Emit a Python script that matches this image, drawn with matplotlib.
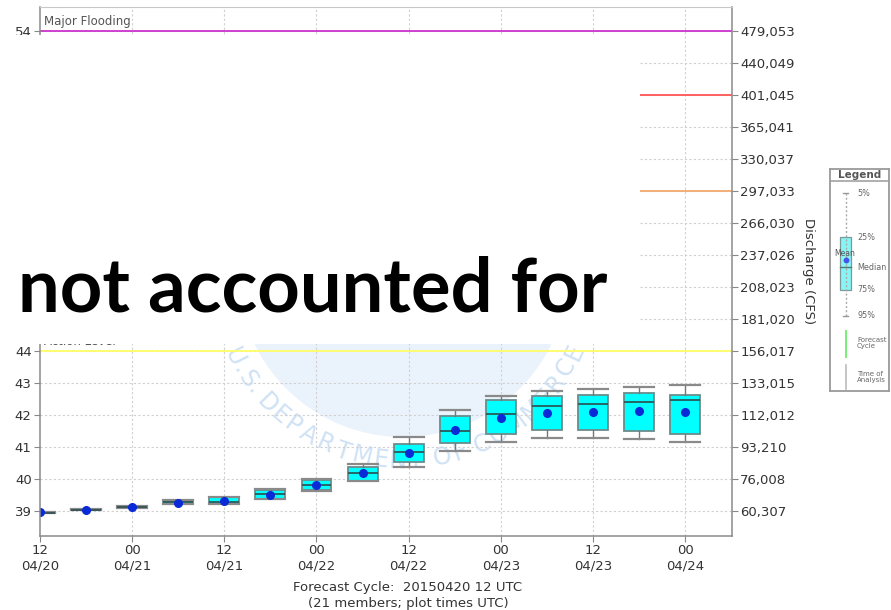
import matplotlib
matplotlib.use('Agg')
import matplotlib.pyplot as plt
import numpy as np
from matplotlib.patches import Rectangle, Circle
from matplotlib.textpath import TextPath
from matplotlib.font_manager import FontProperties

# ---------------- data ----------------
hours = [0, 6, 12, 18, 24, 30, 36, 42, 48, 54, 60, 66, 72, 78, 84]
p05 = [38.95, 39.03, 39.10, 39.22, 39.22, 39.37, 39.62, 39.95, 40.38, 40.88, 41.16, 41.27, 41.27, 41.24, 41.16]
q25 = [38.95, 39.03, 39.10, 39.22, 39.23, 39.38, 39.65, 39.95, 40.54, 41.12, 41.40, 41.53, 41.53, 41.49, 41.40]
median = [38.95, 39.04, 39.12, 39.27, 39.28, 39.53, 39.80, 40.20, 40.86, 41.50, 42.03, 42.29, 42.34, 42.41, 42.47]
q75 = [38.96, 39.05, 39.15, 39.32, 39.43, 39.66, 39.97, 40.38, 41.09, 41.97, 42.47, 42.59, 42.64, 42.68, 42.63]
p95 = [38.96, 39.05, 39.15, 39.33, 39.45, 39.68, 39.99, 40.46, 41.32, 42.16, 42.60, 42.76, 42.80, 42.87, 42.94]
mean = [38.97, 39.04, 39.13, 39.26, 39.30, 39.51, 39.81, 40.18, 40.82, 41.53, 41.92, 42.07, 42.11, 42.13, 42.10]

stage_ticks = list(range(39, 55))
stage_labels = ["39", "40", "41", "42", "43", "44", "", "", "", "", "", "", "", "", "", "54"]
discharge_labels = ["60,307", "76,008", "93,210", "112,012", "133,015", "156,017",
                    "181,020", "208,023", "237,026", "266,030", "297,033", "330,037",
                    "365,041", "401,045", "440,049", "479,053"]
x_tick_hours = [0, 12, 24, 36, 48, 60, 72, 84]
x_tick_labels = ["12\n04/20", "00\n04/21", "12\n04/21", "00\n04/22",
                 "12\n04/22", "00\n04/23", "12\n04/23", "00\n04/24"]

flood_levels = [54, 52, 49, 44]
flood_names = ["Major Flooding", "Moderate Flooding", "Minor Flooding", "Action Level"]
flood_colors = ["#cc33cc", "#ff5555", "#f2aa70", "#ffff66"]

W, H = 891, 610
fig = plt.figure(figsize=(W / 100, H / 100), dpi=100)
fig.patch.set_facecolor('white')


def px_axes(x0, y0, x1, y1, **kw):
    return fig.add_axes([x0 / W, 1 - y1 / H, (x1 - x0) / W, (y1 - y0) / H], **kw)


ax = px_axes(40, 7, 732, 536)
ax.set_xlim(0, 90.1)
ax.set_ylim(38.22, 54.75)

# watermark (seal circle + curved text), in inches
cx, cy, R = 4.03, (H - 272) / 100, 1.65
circ = Circle((cx, cy), R, transform=fig.dpi_scale_trans, facecolor='#eaf2fb',
              edgecolor='none', zorder=0)
ax.add_patch(circ)
circ.set_clip_path(ax.patch)
wm = "U.S. DEPARTMENT OF COMMERCE"
fp = FontProperties(family='DejaVu Sans', size=17)
widths = np.array([TextPath((0, 0), ch if ch != ' ' else 'i', prop=fp).get_extents().width + 3
                   for ch in wm])
cum = np.cumsum(widths) - widths / 2
angs = 207 + (335 - 207) * (cum - cum[0]) / (cum[-1] - cum[0])
for ch, a in zip(wm, angs):
    r = 1.89
    t = ax.text(cx + r * np.cos(np.radians(a)), cy + r * np.sin(np.radians(a)), ch,
                transform=fig.dpi_scale_trans, rotation=a + 90, ha='center', va='center',
                fontsize=17, color='#cfe2f5', zorder=0.5, rotation_mode='anchor')
    t.set_clip_on(True)

# grid
for s in stage_ticks:
    ax.axhline(s, color='#d0d0d0', lw=0.8, ls=(0, (2, 2)), zorder=1)
for h in x_tick_hours[1:]:
    ax.axvline(h, color='#d0d0d0', lw=0.8, ls=(0, (2, 2)), zorder=1)

# flood lines
for lvl, nm, col in zip(flood_levels, flood_names, flood_colors):
    ax.axhline(lvl, color=col, lw=1.3, zorder=2)
    ax.text(0.5, lvl + 0.08, nm, fontsize=8.5, color='#555555', ha='left', va='bottom', zorder=3)

# box plots
stats = []
for i in range(len(hours)):
    stats.append(dict(med=median[i], q1=q25[i], q3=q75[i], whislo=p05[i], whishi=p95[i],
                      mean=mean[i]))
ax.bxp(stats, positions=hours, widths=3.9, capwidths=3.9, patch_artist=True, showmeans=True,
       showfliers=False, manage_ticks=False,
       boxprops=dict(facecolor='#00ffff', edgecolor='#6a8c8c', linewidth=1.3),
       medianprops=dict(color='#2d4d4d', linewidth=1.2),
       whiskerprops=dict(color='#777777', linewidth=1.0),
       capprops=dict(color='#8a8a8a', linewidth=1.6),
       meanprops=dict(marker='o', markerfacecolor='#0a2ad8', markeredgecolor='#0a2ad8',
                      markersize=5.5))

ax.set_yticks(stage_ticks)
ax.set_yticklabels(stage_labels)
ax.set_xticks(x_tick_hours)
ax.set_xticklabels(x_tick_labels)
ax.tick_params(axis='both', labelsize=9.5, labelcolor='#333333', color='#888888', length=4,
               width=0.8, pad=2)
for side in ['left', 'bottom', 'right']:
    ax.spines[side].set_color('#8a8a8a')
    ax.spines[side].set_linewidth(1.1)
ax.spines['top'].set_color('#c8c8c8')

ax2 = ax.twinx()
ax2.set_ylim(ax.get_ylim())
ax2.set_yticks(stage_ticks)
ax2.set_yticklabels(discharge_labels)
ax2.tick_params(axis='y', labelsize=9.5, labelcolor='#333333', color='#888888', length=4,
                width=0.8, pad=2)
for side in ax2.spines:
    ax2.spines[side].set_visible(False)

fig.text(808 / W, 1 - 271 / H, "Discharge (CFS)", rotation=270, ha='center', va='center',
         fontsize=9.5, color='#333333')
fig.text(408 / W, 1 - 587 / H, "Forecast Cycle:  20150420 12 UTC", ha='center', va='center',
         fontsize=9.5, color='#333333')
fig.text(408 / W, 1 - 603 / H, "(21 members; plot times UTC)", ha='center', va='center',
         fontsize=9.5, color='#333333')

# ---------------- legend panel ----------------
lg = px_axes(830, 169, 889, 391)
lg.set_xlim(830, 889)
lg.set_ylim(391, 169)
lg.set_xticks([]); lg.set_yticks([])
for s in lg.spines.values():
    s.set_color('#9a9a9a'); s.set_linewidth(1.3)
lg.text(859.5, 175, "Legend", ha='center', va='center', fontsize=7.5, fontweight='bold',
        color='#555555')
lg.plot([830, 889], [181, 181], color='#9a9a9a', lw=1.1)
lg.plot([845.5, 845.5], [193, 316], color='#aaaaaa', lw=1.0, ls=(0, (1.5, 1.5)))
lg.plot([843, 848], [193, 193], color='#999999', lw=1.0)
lg.plot([843, 848], [316, 316], color='#999999', lw=1.0)
lg.add_patch(Rectangle((840, 237), 11, 53, facecolor='#88f4f4', edgecolor='#7a9a9a', lw=0.9))
lg.plot([840, 851], [267, 267], color='#557777', lw=1.0)
lg.plot([845.5], [260], 'o', color='#4455ee', ms=3.2)
lg.text(845, 254, "Mean", ha='center', va='center', fontsize=5.5, color='#555555')
for lab, yy in zip(["5%", "25%", "Median", "75%", "95%"], [193, 237, 268, 290, 316]):
    lg.text(857, yy, lab, ha='left', va='center', fontsize=5.8, color='#666666')
lg.plot([845.5, 845.5], [331, 357], color='#77ee77', lw=1.4)
lg.text(857, 343, "Forecast\nCycle", ha='left', va='center', fontsize=5, color='#666666',
        linespacing=1.1)
lg.plot([845.5, 845.5], [365, 389], color='#bbbbbb', lw=1.2)
lg.text(857, 377, "Time of\nAnalysis", ha='left', va='center', fontsize=5, color='#666666',
        linespacing=1.1)

# ---------------- overlay annotation ----------------
fig.patches.append(Rectangle((0, 1 - 344 / H), 640 / W, (344 - 35) / H,
                             transform=fig.transFigure, facecolor='white', edgecolor='none',
                             zorder=10))
ov = fig.text(18 / W, 1 - 312 / H, "not accounted for", ha='left', va='baseline',
              fontsize=56, fontweight='bold', family=['Lato', 'DejaVu Sans'], color='black',
              zorder=11)
fig.canvas.draw()
r = fig.canvas.get_renderer()
wpx = ov.get_window_extent(r).width
ov.set_fontsize(56 * 590 / wpx)

fig.savefig('out.png', dpi=100, facecolor='white')
